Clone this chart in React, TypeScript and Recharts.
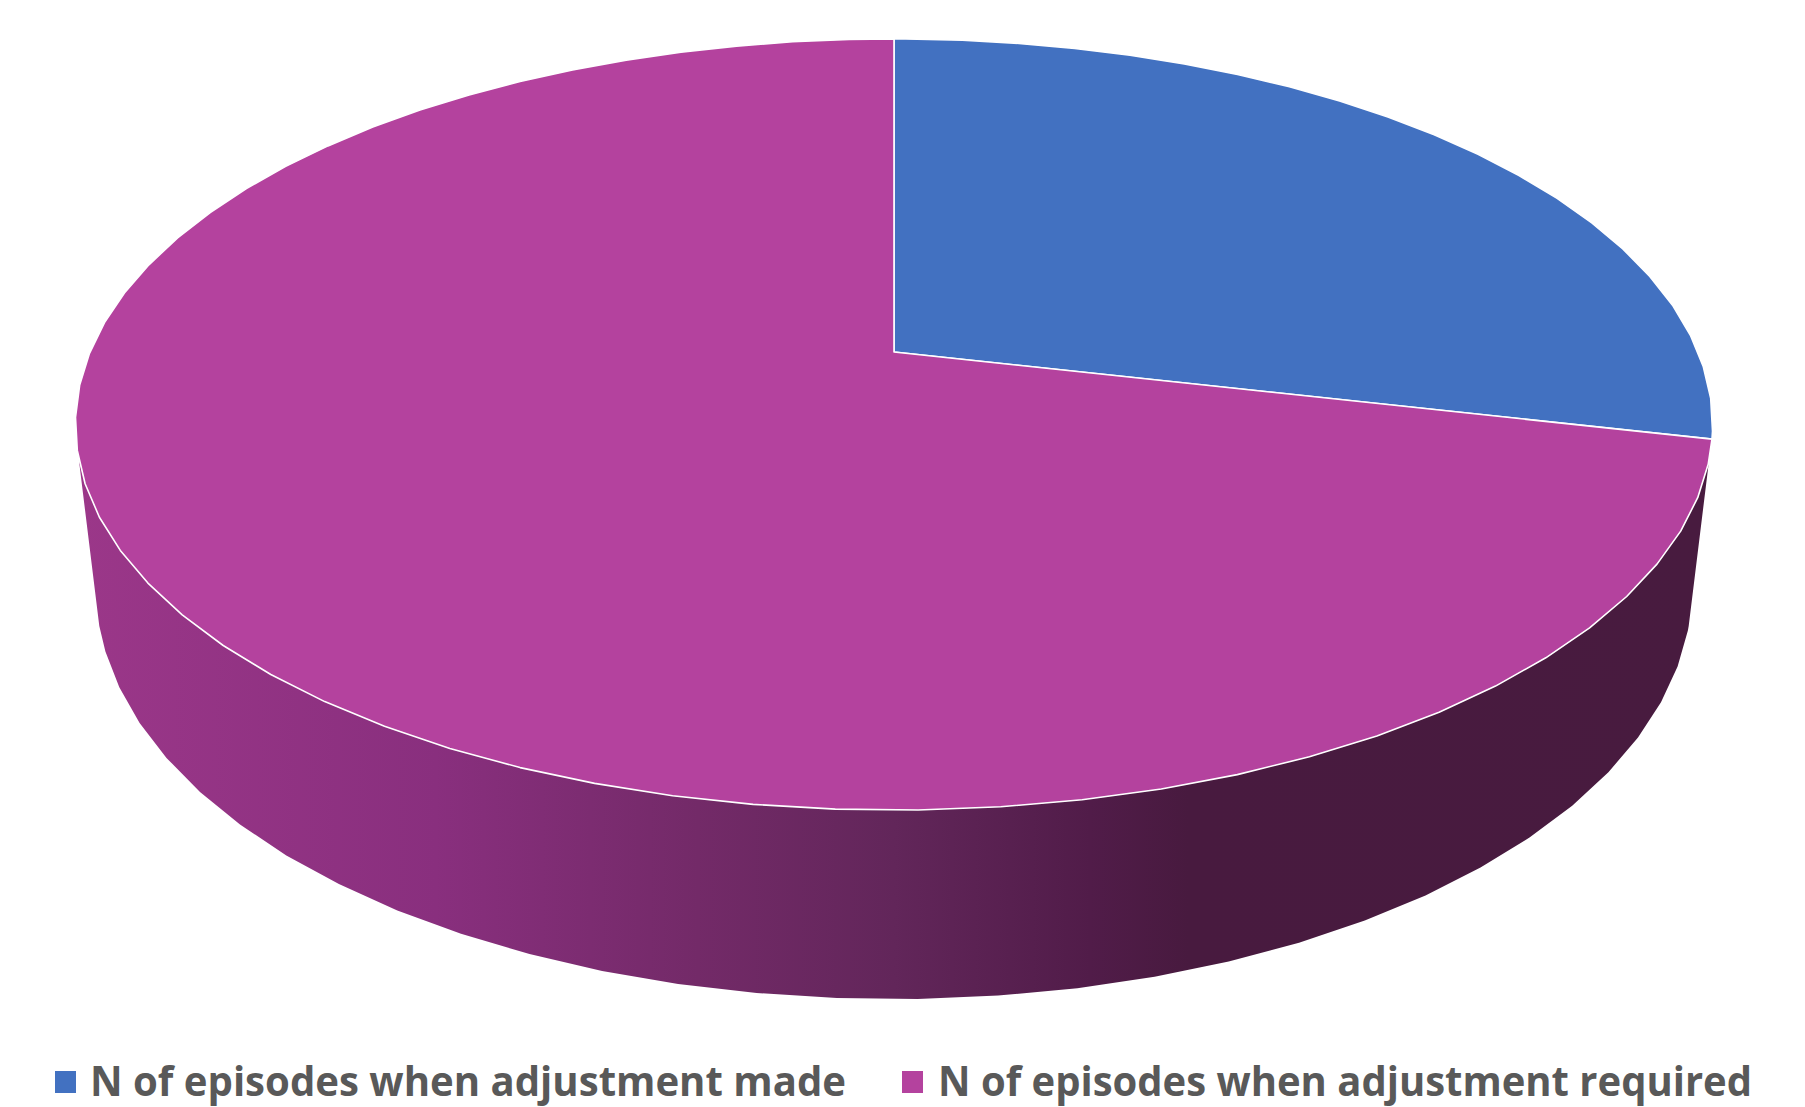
import React from "react";
import { PieChart, Pie, Cell, Legend } from "recharts";

const categories = [
  "N of episodes when adjustment made",
  "N of episodes when adjustment required",
];
const shares = [28.6, 71.4];
const colors = ["#4271C1", "#B4429E"];
const legendSlots = [
  { swatch: 55, text: 90, width: 756 },
  { swatch: 902, text: 938, width: 814 },
];

const rows = categories.map((name, i) => ({ name, value: shares[i] }));

// Tilted-disc projection of the unit circle on the top face
const HALF_WIDTH = 804;
const HALF_HEIGHT = 372;
const TILT = 0.188;
const FACET = 4.8;
const FACET_ORIGIN = 271.4;
const WALL_FROM = 196;
const WALL_TO = 344;

const rad = (d: number) => (d * Math.PI) / 180;

function topPoint(cx: number, cy: number, deg: number) {
  const X = Math.cos(rad(deg));
  const Y = Math.sin(rad(deg));
  const w = 1 + TILT * Y;
  return { x: cx + (HALF_WIDTH * X) / w, y: cy - (HALF_HEIGHT * Y) / w, Y };
}

function bottomPoint(cx: number, cy: number, deg: number) {
  const p = topPoint(cx, cy, deg);
  return { x: cx + 0.975 * (p.x - cx), y: p.y + 157 + 32 * Math.abs(p.Y) };
}

// Angles from a to b (a > b, sweeping clockwise) on the faceted rim
function rimAngles(a: number, b: number) {
  const out = [a];
  const k0 = Math.floor((a - FACET_ORIGIN) / FACET);
  for (let k = k0; ; k--) {
    const d = FACET_ORIGIN + k * FACET;
    if (d <= b) break;
    if (d < a) out.push(d);
  }
  out.push(b);
  return out;
}

const toPath = (pts: { x: number; y: number }[]) =>
  pts.map((p, i) => `${i ? "L" : "M"}${p.x.toFixed(1)} ${p.y.toFixed(1)}`).join(" ") + " Z";

function DiscSlice(props: any) {
  const { cx, cy, startAngle, endAngle, fill } = props;
  const top = rimAngles(startAngle, endAngle).map((d) => topPoint(cx, cy, d));
  const face = toPath([{ x: cx, y: cy }, ...top]);

  // The side wall shows only along the front of the rim
  const lo = WALL_FROM - 360;
  const hi = WALL_TO - 360;
  let wall: string | null = null;
  const from = Math.min(startAngle, hi);
  const to = Math.max(endAngle, lo);
  const wrapped = endAngle <= -164;
  if (wrapped && from > to) {
    const angles = rimAngles(from, to);
    wall = toPath([
      ...angles.map((d) => topPoint(cx, cy, d)),
      ...angles.slice().reverse().map((d) => bottomPoint(cx, cy, d)),
    ]);
  }

  return (
    <g>
      <defs>
        <linearGradient id="wallShade" gradientUnits="userSpaceOnUse" x1="76" y1="0" x2="1712" y2="0">
          <stop offset="0" stopColor="#9B3789" />
          <stop offset="0.22" stopColor="#892F7E" />
          <stop offset="0.38" stopColor="#732A68" />
          <stop offset="0.5" stopColor="#62265A" />
          <stop offset="0.62" stopColor="#511C49" />
          <stop offset="0.68" stopColor="#481A3F" />
          <stop offset="1" stopColor="#481B3F" />
        </linearGradient>
      </defs>
      {wall && <path d={wall} fill="url(#wallShade)" stroke="none" />}
      <path d={face} fill={fill} stroke="#FFFFFF" strokeWidth={1.6} strokeLinejoin="round" />
    </g>
  );
}

function LegendRow({ payload }: any) {
  return (
    <div style={{ position: "relative", width: 1805, height: 60 }}>
      {(payload || []).map((entry: any, i: number) => (
        <React.Fragment key={entry.value}>
          <div
            style={{
              position: "absolute",
              left: legendSlots[i].swatch,
              top: 16,
              width: 21,
              height: 22,
              background: colors[i],
            }}
          />
          <svg
            style={{ position: "absolute", left: legendSlots[i].text, top: 0, overflow: "visible" }}
            width={legendSlots[i].width}
            height={60}
          >
            <text
              x={0}
              y={41}
              textLength={legendSlots[i].width}
              lengthAdjust="spacingAndGlyphs"
              fontFamily="'Open Sans', sans-serif"
              fontWeight={700}
              fontSize={42}
              fill="#595959"
            >
              {entry.value}
            </text>
          </svg>
        </React.Fragment>
      ))}
    </div>
  );
}

export default function App() {
  return (
    <div style={{ position: "absolute", left: 0, top: 0, width: 1805, height: 1107, background: "#FFFFFF" }}>
      <PieChart width={1805} height={1107} margin={{ top: 0, right: 0, bottom: 0, left: 0 }}>
        <Pie
          data={rows}
          dataKey="value"
          nameKey="name"
          cx={894}
          cy={352}
          outerRadius={400}
          startAngle={90}
          endAngle={-270}
          shape={DiscSlice}
          isAnimationActive={false}
          legendType="square"
        >
          {rows.map((r, i) => (
            <Cell key={r.name} fill={colors[i]} />
          ))}
        </Pie>
        <Legend
          content={<LegendRow />}
          wrapperStyle={{ position: "absolute", left: 0, top: 1055, width: 1805, height: 60 }}
        />
      </PieChart>
    </div>
  );
}
